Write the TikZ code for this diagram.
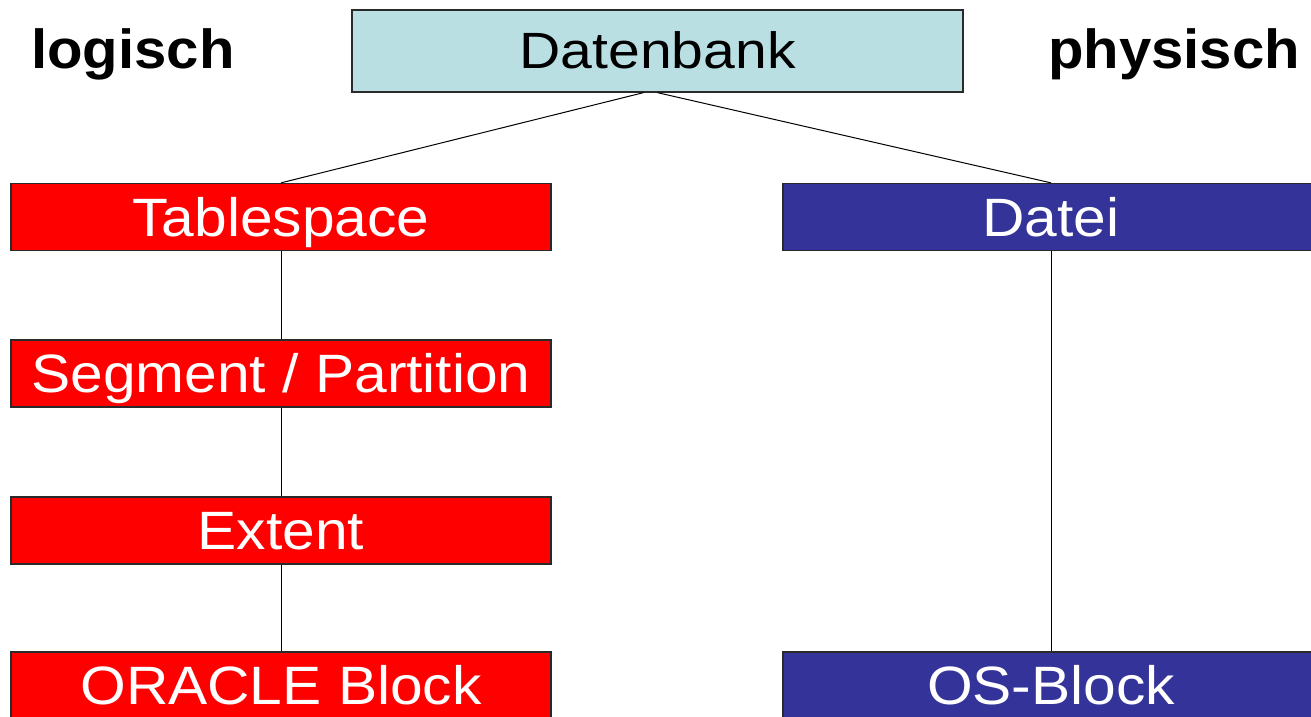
\documentclass[tikz,border=0pt]{standalone}
\usepackage{fontspec}
\setmainfont{Liberation Sans}
\newfontfamily\widefont{Liberation Sans}[FakeStretch=1.087]
\newfontfamily\widerfont{Liberation Sans}[FakeStretch=1.12]
\newfontfamily\sidefont{Liberation Sans}[FakeStretch=1.056]
\definecolor{boxred}{HTML}{FF0000}
\definecolor{boxnavy}{HTML}{333399}
\definecolor{boxlight}{HTML}{B9DFE2}
\definecolor{rim}{HTML}{2A2A2A}
\begin{document}
\begin{tikzpicture}[x=1pt,y=-1pt,
  basebox/.style={draw=rim, line width=1.3pt, inner sep=0pt, minimum height=67pt,
    text height=38pt, text depth=0pt, font=\widefont\fontsize{54}{54}\selectfont},
  redbox/.style={basebox, fill=boxred, text=white, minimum width=540pt},
  navybox/.style={basebox, fill=boxnavy, text=white, minimum width=536pt},
  topbox/.style={basebox, fill=boxlight, text=black, minimum width=611pt, minimum height=82pt, text height=36pt, font=\widerfont\fontsize{51}{51}\selectfont},
  side/.style={anchor=base west, inner sep=0pt, font=\sidefont\fontsize{55}{55}\selectfont\bfseries},
  link/.style={draw=black, line width=1pt}]
\useasboundingbox (0,0) rectangle (1311,717);
\node[topbox] (db) at (657.5,51) {Datenbank};
\node[side] (lg) at (31,69) {logisch};
\node[side] (ph) at (1048,69) {physisch};
\node[redbox] (ts) at (281,217) {Tablespace};
\node[redbox] (sg) at (281,373.5) {Segment / Partition};
\node[redbox] (ex) at (281,530.5) {Extent};
\node[redbox] (ob) at (281,685.5) {ORACLE Block};
\node[navybox] (dt) at (1051,217) {Datei};
\node[navybox] (os) at (1051,685.5) {OS-Block};
\draw[link] ([xshift=-14pt]db.south) -- (ts.north);
\draw[link] (db.south) -- (dt.north);
\draw[link] (ts) -- (sg);
\draw[link] (sg) -- (ex);
\draw[link] (ex) -- (ob);
\draw[link] (dt) -- (os);
\end{tikzpicture}
\end{document}
